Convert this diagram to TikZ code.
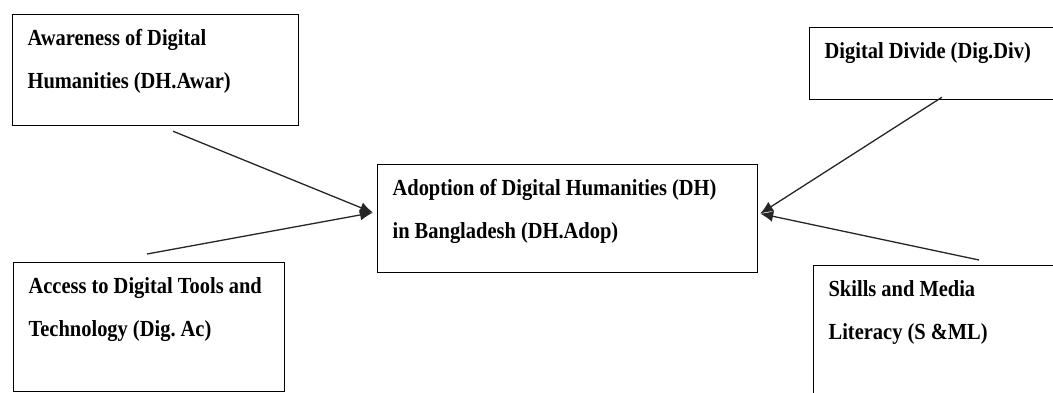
\documentclass[tikz,border=0pt]{standalone}
\usepackage{fontspec}
\setmainfont{Liberation Serif}[FakeStretch=0.89]
\usetikzlibrary{arrows.meta}
\newcommand{\factorfont}{\bfseries\fontsize{23}{43}\selectfont\frenchspacing}
\tikzset{
  factor/.style={draw, line width=1.2pt, anchor=north west, align=left,
    inner xsep=15pt, inner ysep=0pt, text height=31pt, font=\factorfont,
    execute at begin node={\spaceskip=0.22em\relax}},
  link/.style={-{Latex[length=13pt,width=11pt]}, line width=1.3pt, draw=black!85}
}
\begin{document}
\begin{tikzpicture}[x=1pt,y=1pt]
\useasboundingbox (0,0) rectangle (1053,-392);
\clip (0,0) rectangle (1053,-392);
% factors
\node[factor, text width=256pt, text depth=80pt] (awar) at (12,-14) {Awareness of Digital\\Humanities (DH.Awar)};
\node[factor, text width=350pt, text depth=77pt] (adop) at (377,-164) {Adoption of Digital Humanities (DH)\\in Bangladesh (DH.Adop)};
\node[factor, text width=241pt, text depth=98pt] (acc) at (13,-262) {Access to Digital Tools and\\Technology (Dig. Ac)};
\node[factor, text width=230pt, text depth=41pt] (div) at (809,-27) {Digital Divide (Dig.Div)};
\node[factor, text width=230pt, text depth=110pt] (skill) at (813,-265) {Skills and Media\\Literacy (S \&ML)};
% links
\draw[link] ([xshift=161pt,yshift=-5pt]awar.south west) -- ([xshift=-4pt,yshift=6pt]adop.west);
\draw[link] ([xshift=134pt,yshift=8pt]acc.north west) -- ([xshift=-4pt,yshift=6pt]adop.west);
\draw[link] ([xshift=133pt,yshift=3pt]div.south west) -- ([xshift=2pt,yshift=5pt]adop.east);
\draw[link] ([xshift=166pt,yshift=5pt]skill.north west) -- ([xshift=2pt,yshift=5pt]adop.east);
\end{tikzpicture}
\end{document}
